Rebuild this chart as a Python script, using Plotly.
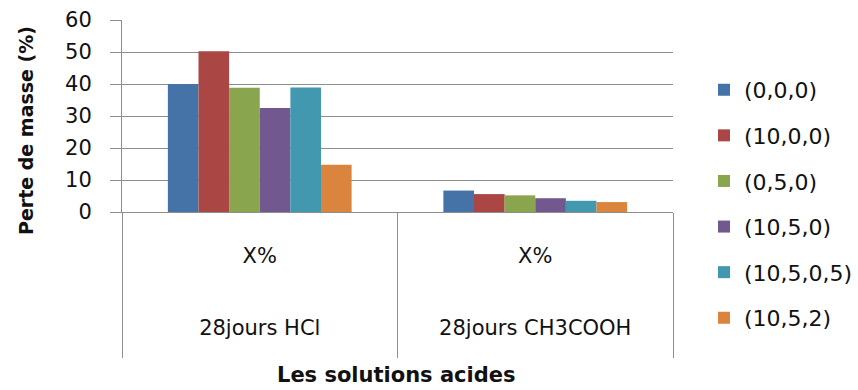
import plotly.graph_objects as go

# Mass loss after 28 days in acid solutions
solutions = ["28jours HCl", "28jours CH3COOH"]
inner_labels = ["X%", "X%"]
series_names = ["(0,0,0)", "(10,0,0)", "(0,5,0)", "(10,5,0)", "(10,5,0,5)", "(10,5,2)"]
hcl_loss = [40, 50.2, 38.8, 32.5, 38.9, 14.8]
ch3cooh_loss = [6.7, 5.6, 5.2, 4.3, 3.5, 3.1]
colors = ["#4572A7", "#AA4643", "#89A54E", "#71588F", "#4198AF", "#DB843D"]
y_ticks = [0, 10, 20, 30, 40, 50, 60]

FONT = "DejaVu Sans"
GRID = "#8e8e8e"

fig = go.Figure()
for i, name in enumerate(series_names):
    fig.add_trace(go.Bar(
        x=solutions,
        y=[hcl_loss[i], ch3cooh_loss[i]],
        name=name,
        legendgroup=name,
        marker=dict(color=colors[i], line=dict(width=0)),
    ))

# carrier for the inner category row (one position per solution)
fig.add_trace(go.Scatter(
    x=list(range(len(solutions))), y=[0] * len(solutions),
    xaxis="x2", mode="markers", marker=dict(opacity=0),
    showlegend=False, hoverinfo="skip",
))

fig.update_layout(
    width=858, height=390,
    margin=dict(l=122, r=185, t=20, b=178, autoexpand=False),
    paper_bgcolor="white", plot_bgcolor="white",
    barmode="group", bargap=0.333, bargroupgap=0,
    font=dict(family=FONT, size=22, color="#111111"),
    showlegend=True,
    legend=dict(
        x=1.0563, xanchor="left", y=0.745, yanchor="top",
        font=dict(family=FONT, size=22, color="#111111"),
        traceorder="grouped", tracegroupgap=14,
        bgcolor="rgba(0,0,0,0)", maxheight=390,
    ),
    xaxis=dict(
        type="category",
        categoryarray=solutions,
        showgrid=False,
        showline=True, linecolor=GRID, linewidth=1,
        ticks="outside", tickson="boundaries", ticklen=145,
        tickcolor=GRID, tickwidth=1,
        tickfont=dict(family=FONT, size=21, color="#111111"),
        ticklabelstandoff=97,
    ),
    xaxis2=dict(
        type="linear",
        overlaying="x", anchor="y", side="bottom",
        range=[-0.5, 1.5],
        tickvals=list(range(len(solutions))), ticktext=inner_labels,
        showgrid=False, showline=False, zeroline=False, ticks="",
        tickfont=dict(family=FONT, size=21, color="#111111"),
        ticklabelstandoff=29,
    ),
    yaxis=dict(
        range=[0, 60], tickvals=y_ticks,
        showgrid=True, gridcolor=GRID, gridwidth=1,
        zeroline=False,
        showline=True, linecolor=GRID, linewidth=1,
        ticks="outside", ticklen=11, tickcolor=GRID, tickwidth=1,
        tickfont=dict(family=FONT, size=21, color="#111111"),
        ticklabelstandoff=14,
    ),
    annotations=[
        dict(text="<b>Perte de masse (%)</b>", xref="paper", yref="paper",
             x=-0.1742, y=0.4219, xanchor="center", yanchor="middle",
             textangle=-90, showarrow=False,
             font=dict(family=FONT, size=19, color="#111111")),
        dict(text="<b>Les solutions acides</b>", xref="paper", yref="paper",
             x=0.4973, y=-0.9219, xanchor="center", yanchor="bottom",
             showarrow=False,
             font=dict(family=FONT, size=21, color="#111111")),
    ],
)

fig.write_html("out.html")
